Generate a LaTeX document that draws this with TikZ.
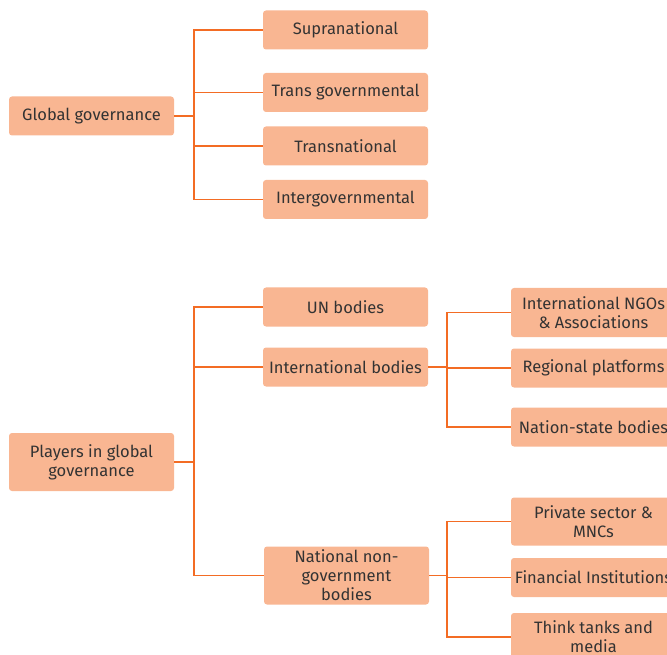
\documentclass[tikz,border=0pt]{standalone}
\usepackage{fontspec}
\setmainfont{Fira Sans}
\usetikzlibrary{positioning}
\definecolor{BoxFill}{HTML}{F9B692}
\definecolor{LinkOrange}{HTML}{F36C24}
\definecolor{TextGray}{HTML}{333333}

\begin{document}
\begin{tikzpicture}[x=1pt, y=-1pt,
                    every node/.style={fill=BoxFill, rounded corners=3pt, align=center,
                                       minimum width=165pt, minimum height=39pt, inner sep=1pt,
                                       text=TextGray, font=\fontsize{16.5}{19}\selectfont},
                    link/.style={draw=LinkOrange, line width=1.5pt}]
  \useasboundingbox (0,0) rectangle (667,655);
  % global governance
  \node (global) at (91.5,116) {Global governance};
  \node (supra) at (345.5,30) {Supranational};
  \node (transgov) at (345.5,92.5) {Trans governmental};
  \node (transnat) at (345.5,146) {Transnational};
  \node (intergov) at (345.5,199.5) {Intergovernmental};
  \draw[link] (global.east) -- ++(20,0) coordinate (gjoint);
  \draw[link] (gjoint) |- (supra.west);
  \draw[link] (gjoint) |- (transgov.west);
  \draw[link] (gjoint) |- (transnat.west);
  \draw[link] (gjoint) |- (intergov.west);
  % players
  \node[minimum height=58pt] (players) at (91.5,462) {Players in global\\governance};
  \node (unbodies) at (345.5,307) {UN bodies};
  \node (intbodies) at (345.5,367) {International bodies};
  \node[minimum height=58pt] (natbodies) at (346.5,575.5) {National non-\\government\\bodies};
  \draw[link] (players.east) -- ++(20,0) coordinate (pjoint);
  \draw[link] (pjoint) |- (unbodies.west);
  \draw[link] (pjoint) |- (intbodies.west);
  \draw[link] (pjoint) |- (natbodies.west);
  % international bodies
  \node[minimum height=49pt] (ngos) at (593.5,312.5) {International NGOs\\\& Associations};
  \node (regional) at (593.5,368) {Regional platforms};
  \node (nation) at (593.5,427) {Nation-state bodies};
  \draw[link] (intbodies.east) -- ++(19,0) coordinate (ijoint);
  \draw[link] (ijoint) |- (ngos.west);
  \draw[link] (ijoint) |- (regional.west);
  \draw[link] (ijoint) |- (nation.west);
  % national non-government bodies
  \node[minimum height=48pt] (private) at (593.5,521.5) {Private sector \&\\MNCs};
  \node (financial) at (593.5,577.5) {Financial Institutions};
  \node[minimum height=48pt] (think) at (593.5,637) {Think tanks and\\media};
  \draw[link] (natbodies.east) -- ++(18,0) coordinate (njoint);
  \draw[link] (njoint) |- (private.west);
  \draw[link] (njoint) |- (financial.west);
  \draw[link] (njoint) |- (think.west);
\end{tikzpicture}
\end{document}
